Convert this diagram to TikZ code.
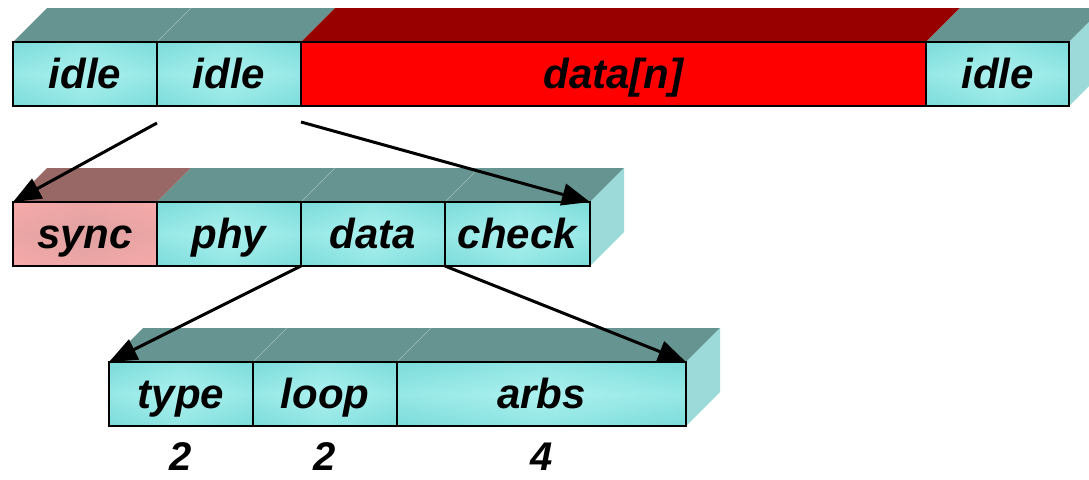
\documentclass[tikz,border=0pt]{standalone}
\usepackage{fontspec}
\setmainfont{Liberation Sans}
\usetikzlibrary{arrows.meta}

\definecolor{cyanedge}{RGB}{124,220,218}
\definecolor{cyanmid}{RGB}{172,242,240}
\definecolor{tealtop}{RGB}{102,148,145}
\definecolor{tealside}{RGB}{155,218,216}
\definecolor{redfront}{RGB}{255,0,0}
\definecolor{redtop}{RGB}{152,0,0}
\definecolor{pinkedge}{RGB}{248,170,170}
\definecolor{pinkmid}{RGB}{224,162,162}
\definecolor{pinktop}{RGB}{152,104,102}

\pgfdeclarelayer{back}
\pgfsetlayers{back,main}

\tikzset{
  x=1pt, y=-1pt,
  % soft glow: light centre, darker rim (horizontal shading plus a vertical veil)
  glow/.style 2 args={left color=#1, right color=#1, middle color=#2, path picture={
    \shade[top color=#1, bottom color=#1, middle color=#2, opacity=.55]
      (path picture bounding box.south west) rectangle (path picture bounding box.north east);
  }},
  labelfont/.style={font=\fontsize{42}{50}\selectfont\bfseries\itshape, text height=30pt, text depth=2pt},
  cell/.style={draw=black, line width=1.4pt, minimum height=64pt, outer sep=0pt,
    inner sep=0pt, anchor=north west, labelfont},
  cyancell/.style={cell, glow={cyanedge}{cyanmid}},
  pinkcell/.style={cell, glow={pinkedge}{pinkmid}},
  redcell/.style={cell, fill=redfront},
  numlbl/.style={font=\fontsize{40}{46}\selectfont\bfseries\itshape, text height=28pt, text depth=0pt, inner sep=0pt},
  ptr/.style={line width=3pt, -{Triangle[length=28pt, width=22pt]}},
}

% slanted top face of a cell
\newcommand\topface[2]{%
  \fill[#2] (#1.north west) -- ++(34,-34) -- ([shift={(34,-34)}]#1.north east) -- (#1.north east) -- cycle;}
% seam between two neighbouring top faces
\newcommand\seam[1]{%
  \draw[white!35!tealtop, line width=0.5pt] (#1.north east) -- ++(34,-34);}
% right-hand side face of a row
\newcommand\sideface[1]{%
  \fill[tealside] (#1.north east) -- ++(34,-34) -- ++(0,64) -- (#1.south east) -- cycle;}

\begin{document}
\begin{tikzpicture}
\useasboundingbox (0,0) rectangle (1089,479);
\clip (0,0) rectangle (1089,479);

% row 1: stream of words
\node[cyancell, minimum width=144pt] (i1) at (13,42) {idle};
\node[cyancell, minimum width=144pt] (i2) at (157,42) {idle};
\node[redcell,  minimum width=625pt] (dn) at (301,42) {data[n]};
\node[cyancell, minimum width=143pt] (i3) at (926,42) {idle};

% row 2: one word
\node[pinkcell, minimum width=144pt] (sy) at (13,202) {sync};
\node[cyancell, minimum width=144pt] (ph) at (157,202) {phy};
\node[cyancell, minimum width=144pt] (da) at (301,202) {data};
\node[cyancell, minimum width=145pt] (ck) at (445,202) {check};

% row 3: data field
\node[cyancell, minimum width=144pt] (ty) at (109,362) {type};
\node[cyancell, minimum width=144pt] (lp) at (253,362) {loop};
\node[cyancell, minimum width=289pt] (ar) at (397,362) {arbs};

% field widths
\node[numlbl] (nty) at ([yshift=-30pt]ty.south) {2};
\node[numlbl] (nlp) at ([yshift=-30pt]lp.south) {2};
\node[numlbl] (nar) at ([yshift=-30pt]ar.south) {4};

\begin{pgfonlayer}{back}
  \topface{i1}{tealtop} \topface{i2}{tealtop} \topface{dn}{redtop} \topface{i3}{tealtop}
  \seam{i1} \sideface{i3}
  \topface{sy}{pinktop} \topface{ph}{tealtop} \topface{da}{tealtop} \topface{ck}{tealtop}
  \seam{ph} \seam{da} \sideface{ck}
  \topface{ty}{tealtop} \topface{lp}{tealtop} \topface{ar}{tealtop}
  \seam{ty} \seam{lp} \sideface{ar}
\end{pgfonlayer}

% expansion pointers
\coordinate (s1) at ([yshift=-17pt]i2.south west);
\coordinate (s2) at ([yshift=-16pt]i2.south east);
\draw[ptr] (s1) -- (sy.north west);
\draw[ptr] (s2) -- (ck.north east);
\draw[ptr] (da.south west) -- (ty.north west);
\draw[ptr] (da.south east) -- (ar.north east);
\end{tikzpicture}
\end{document}
